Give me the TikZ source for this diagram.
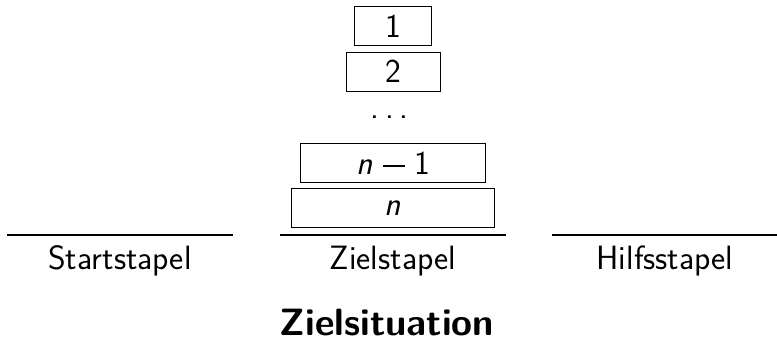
\documentclass[tikz,border=0pt]{standalone}
\begin{document}
\begin{tikzpicture}[x=1pt,y=-1pt,
  disk/.style={draw=black, line width=0.9pt, minimum height=39pt, inner sep=0pt,
    font=\fontsize{33.5}{40}\selectfont\sffamily},
  peg/.style={line width=2.2pt},
  lab/.style={anchor=base, inner sep=0pt, font=\fontsize{33.7}{40}\selectfont\sffamily},
  ttl/.style={anchor=base, inner sep=0pt, font=\fontsize{38}{44}\selectfont\sffamily\bfseries}]
\useasboundingbox (0,0) rectangle (777,345);
% pegs
\coordinate (s1) at (7,235.3);   \coordinate (s2) at (233,235.3);
\coordinate (z1) at (280,235.3); \coordinate (z2) at (506,235.3);
\coordinate (h1) at (552,235.3); \coordinate (h2) at (778,235.3);
\draw[peg] (s1) -- (s2);
\draw[peg] (z1) -- (z2);
\draw[peg] (h1) -- (h2);
% disks
\node[disk, minimum width=76.5pt]  (d1) at (393,26.3)  {1};
\node[disk, minimum width=94pt]    (d2) at (393,71.5)  {2};
\node[lab] (dots) at (389.5,118) {.\hspace{5.6pt}.\hspace{5.6pt}.};
\node[disk, minimum width=184.5pt] (dn1) at (393,163) {\textit{n}\hspace{11pt}\rule[7.7pt]{21.7pt}{1.4pt}\hspace{9pt}1};
\node[disk, minimum width=202.5pt] (dn) at (393,208.3) {\textit{n}};
% labels
\node[lab] (ls) at (120,269.3) {Startstapel};
\node[lab] (lz) at (393,269.3) {Zielstapel};
\node[lab] (lh) at (665,269.3) {Hilfsstapel};
\node[ttl] (t) at (387,335) {Zielsituation};
\end{tikzpicture}
\end{document}
